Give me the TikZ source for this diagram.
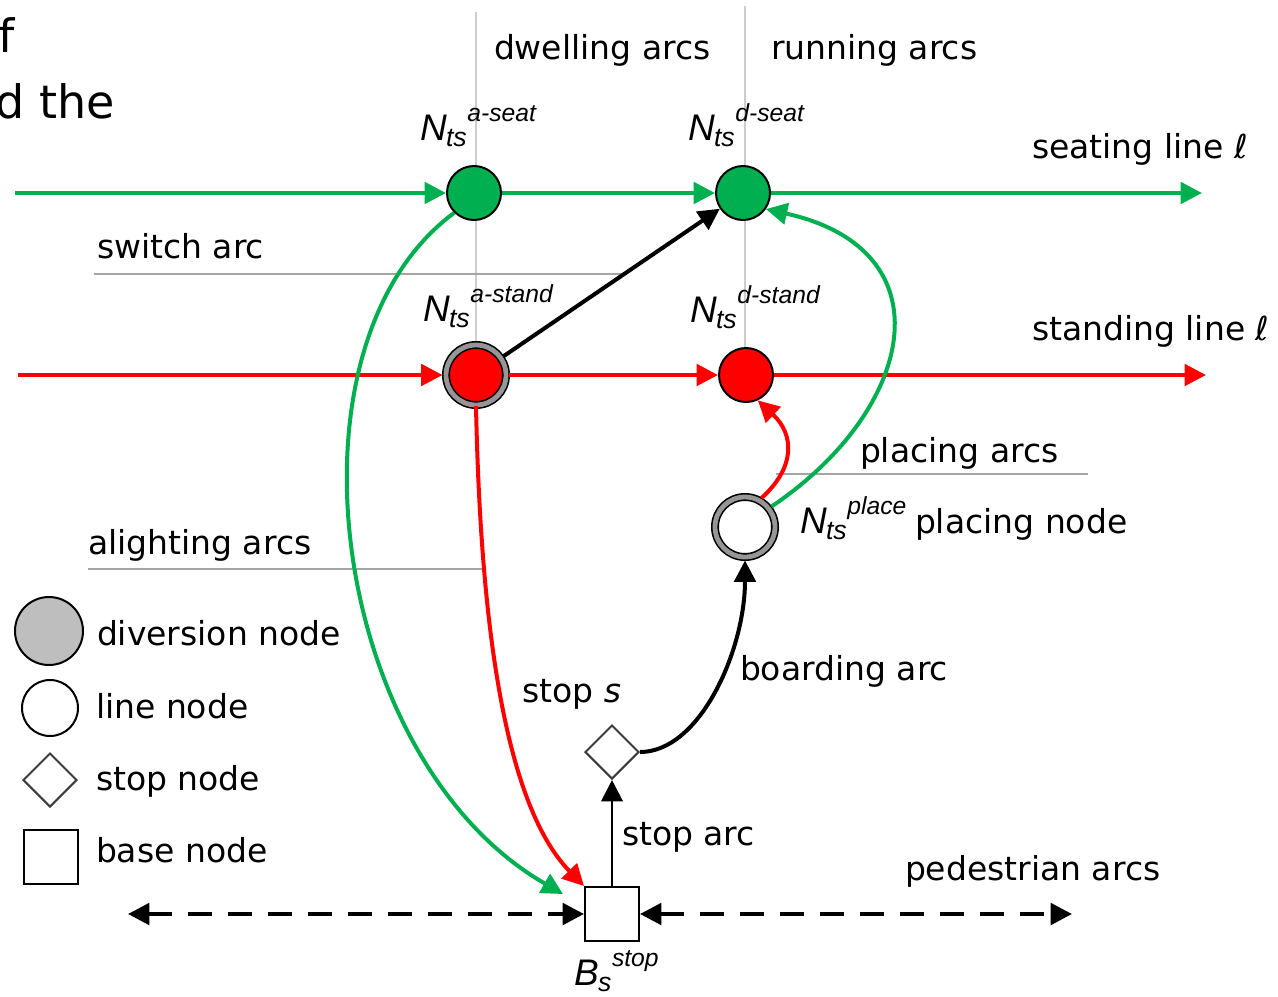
\documentclass[tikz,border=0pt]{standalone}
\usepackage{fontspec}
\setmainfont{DejaVu Sans}
\newfontfamily\arialf{Liberation Sans}
\usetikzlibrary{arrows.meta,shapes.geometric,backgrounds}
\definecolor{gG}{RGB}{0,176,80}
\definecolor{rR}{RGB}{255,0,0}
\definecolor{vgrey}{RGB}{205,205,205}
\definecolor{lgrey}{RGB}{165,165,165}
\definecolor{dgrey}{RGB}{190,190,190}
\definecolor{ringgrey}{RGB}{150,150,150}
\definecolor{sgrey}{RGB}{60,60,60}
\newcommand{\nlab}[3]{{\arialf\itshape\fontsize{27.75}{30}\selectfont #1\kern-0.5pt\raisebox{-5pt}{\fontsize{20}{22}\selectfont #2}\kern0.5pt\raisebox{14pt}{\fontsize{18.5}{20}\selectfont #3}}}
\begin{document}
\begin{tikzpicture}[x=0.75pt,y=-0.75pt,
  font=\fontsize{24.75}{29}\selectfont,
  >={Triangle[length=16pt,width=16pt]},
  lab/.style={anchor=base west,inner sep=0pt,outer sep=0pt},
  seatn/.style={circle,minimum size=40.5pt,inner sep=0pt,fill=gG,draw=black,line width=1.5pt},
  standn/.style={circle,minimum size=40.5pt,inner sep=0pt,fill=rR,draw=black,line width=1.5pt},
  divn/.style={circle,minimum size=45pt,inner sep=0pt,draw=black,line width=1.2pt,double=ringgrey,double distance=3.6pt},
  stopn/.style={diamond,minimum width=40.5pt,minimum height=40.5pt,aspect=1,inner sep=0pt,draw=sgrey,line width=1.5pt,fill=white},
  basen/.style={rectangle,minimum size=40.5pt,inner sep=0pt,draw=black,line width=1.5pt,fill=white},
  gline/.style={draw=gG,line width=3pt,->},
  rline/.style={draw=rR,line width=3pt,->},
  bline/.style={draw=black,line width=3pt,->},
  vline/.style={draw=vgrey,line width=1.5pt},
  labline/.style={draw=lgrey,line width=1.2pt},
  pline/.style={draw=black,line width=3pt,dash pattern=on 18pt off 12pt,<->}
]
\useasboundingbox (0,0) rectangle (1278,996);

% text cut off at the edge, as in the reference
\node[lab,font=\fontsize{34.5}{40}\selectfont] (tf) at (-2,52) {f};
\node[lab,font=\fontsize{34.5}{40}\selectfont] (tdthe) at (-4,118) {d the};

% main nodes
\node[seatn] (as) at (474,193) {};
\node[seatn] (ds) at (743,193) {};
\node[divn,fill=rR] (ast) at (476,375) {};
\node[standn] (dst) at (746,375) {};
\node[divn,fill=white] (pl) at (745,527) {};
\node[stopn] (st) at (612,752) {};
\node[basen] (bs) at (612,914) {};

% free ends
\coordinate (v1t) at (476,12);
\coordinate (v1b) at (476,375);
\coordinate (v2t) at (745,6);
\coordinate (v2b) at (745,375);
\coordinate (gin) at (15,193);
\coordinate (gout) at (1202,193);
\coordinate (rin) at (18,375);
\coordinate (rout) at (1206,375);
\coordinate (gend) at (563,894);
\coordinate (pedL) at (128,914);
\coordinate (pedR) at (1072,914);
\coordinate (sw1) at (94,274);
\coordinate (sw2) at (625,274);
\coordinate (al1) at (88,569);
\coordinate (al2) at (486,569);
\coordinate (pa1) at (776,474);
\coordinate (pa2) at (1088,474);

\begin{scope}[on background layer]
  \draw[vline] (v1t) -- (v1b);
  \draw[vline] (v2t) -- (v2b);
  \draw[labline] (sw1) -- (sw2);
  \draw[labline] (al1) -- (al2);
  \draw[labline] (pa1) -- (pa2);
\end{scope}

% seating line
\draw[gline] (gin) -- (as);
\draw[gline] (as) -- (ds);
\draw[gline] (ds) -- (gout);
% standing line
\draw[rline,shorten >=2pt] (rin) -- (ast);
\draw[rline,shorten <=2pt] (ast) -- (dst);
\draw[rline] (dst) -- (rout);
% switch arc
\draw[bline,shorten <=2pt] (ast) -- (ds);
% alighting arcs
\draw[gline] (as.225) .. controls (275,345) and (330,760) .. (gend);
\draw[rline] (ast.south) .. controls (480,600) and (500,800) .. (bs.north west);
% placing arcs
\draw[gline,shorten <=2pt] (pl.38) .. controls (915,410) and (950,250) .. (ds.-35);
\draw[rline,shorten <=2pt] (pl.62) .. controls (795,468) and (795,435) .. (dst.-65);
% boarding arc
\draw[bline,shorten >=2pt] (st.east) .. controls (700,752) and (745,650) .. (pl.south);
% stop arc
\draw[draw=black,line width=2.2pt,->] (bs.north) -- (st.south);
% pedestrian arcs
\draw[pline] (pedL) -- (bs.west);
\draw[pline] (bs.east) -- (pedR);

% labels
\node[lab] (ldw) at (494,59) {dwelling arcs};
\node[lab] (lru) at (771,59) {running arcs};
\node[lab] (lsl) at (1032,158) {seating line ℓ};
\node[lab] (lstl) at (1032,340) {standing line ℓ};
\node[lab] (lsw) at (97,258) {switch arc};
\node[lab] (lal) at (88,554) {alighting arcs};
\node[lab] (lpa) at (860,462) {placing arcs};
\node[lab] (lpn) at (915,533) {placing node};
\node[lab] (lba) at (740,680) {boarding arc};
\node[lab] (lss) at (522,702) {stop {\itshape s}};
\node[lab] (lsa) at (622,845) {stop arc};
\node[lab] (lpe) at (905,880) {pedestrian arcs};

\node[lab] (nas) at (420,140) {\nlab{N}{ts}{a-seat}};
\node[lab] (nds) at (688,140) {\nlab{N}{ts}{d-seat}};
\node[lab] (nast) at (423,321) {\nlab{N}{ts}{a-stand}};
\node[lab] (ndst) at (690,322) {\nlab{N}{ts}{d-stand}};
\node[lab] (npl) at (800,533) {\nlab{N}{ts}{place}};
\node[lab] (nbs) at (574,985) {\nlab{B}{s}{stop}};

% legend
\node[circle,minimum size=51pt,inner sep=0pt,fill=dgrey,draw=black,line width=1.5pt] (lg1) at (49,631) {};
\node[circle,minimum size=42pt,inner sep=0pt,fill=white,draw=black,line width=1.5pt] (lg2) at (50,708) {};
\node[stopn] (lg3) at (50,780) {};
\node[basen,minimum size=41pt] (lg4) at (51,857) {};
\node[lab] (lt1) at (97,645) {diversion node};
\node[lab] (lt2) at (96,718) {line node};
\node[lab] (lt3) at (96,790) {stop node};
\node[lab] (lt4) at (96,862) {base node};
\end{tikzpicture}
\end{document}
